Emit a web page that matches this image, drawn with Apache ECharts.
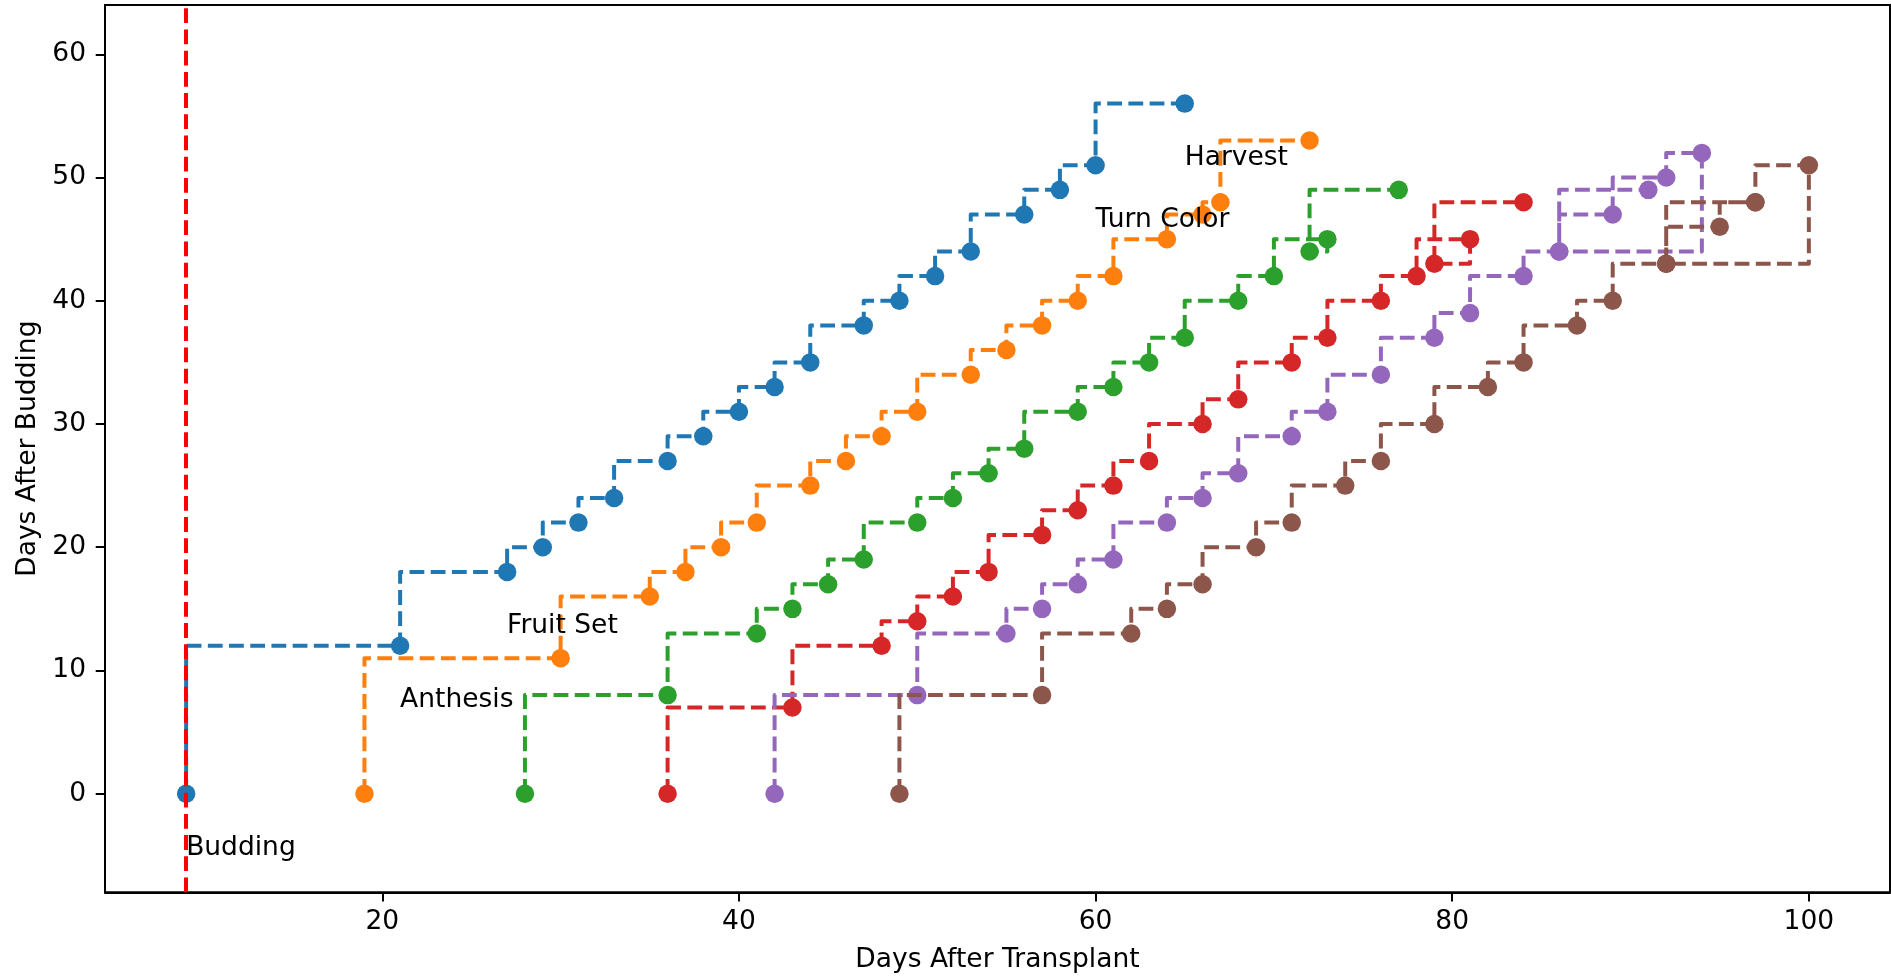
<!DOCTYPE html>
<html>
<head>
<meta charset="utf-8">
<script src="https://cdn.jsdelivr.net/npm/echarts@6/dist/echarts.min.js"></script>
<style>
html,body{margin:0;padding:0;background:#fff;}
#chart{width:1891px;height:976px;}
</style>
</head>
<body>
<div id="chart"></div>
<script>
// ---- data ----
const seriesNames = ['Cluster 1', 'Cluster 2', 'Cluster 3', 'Cluster 4', 'Cluster 5', 'Cluster 6'];

const cluster1X = [9, 21, 27, 29, 31, 33, 36, 38, 40, 42, 44, 47, 49, 51, 53, 56, 58, 60, 65];
const cluster1Y = [0, 12, 18, 20, 22, 24, 27, 29, 31, 33, 35, 38, 40, 42, 44, 47, 49, 51, 56];

const cluster2X = [19, 30, 35, 37, 39, 41, 44, 46, 48, 50, 53, 55, 57, 59, 61, 64, 66, 67, 72];
const cluster2Y = [0, 11, 16, 18, 20, 22, 25, 27, 29, 31, 34, 36, 38, 40, 42, 45, 47, 48, 53];

const cluster3X = [28, 36, 41, 43, 45, 47, 50, 52, 54, 56, 59, 61, 63, 65, 68, 70, 73, 72, 77];
const cluster3Y = [0, 8, 13, 15, 17, 19, 22, 24, 26, 28, 31, 33, 35, 37, 40, 42, 45, 44, 49];

const cluster4X = [36, 43, 48, 50, 52, 54, 57, 59, 61, 63, 66, 68, 71, 73, 76, 78, 81, 79, 84];
const cluster4Y = [0, 7, 12, 14, 16, 18, 21, 23, 25, 27, 30, 32, 35, 37, 40, 42, 45, 43, 48];

const cluster5X = [42, 50, 55, 57, 59, 61, 64, 66, 68, 71, 73, 76, 79, 81, 84, 86, 89, 92, 94, 86, 91];
const cluster5Y = [0, 8, 13, 15, 17, 19, 22, 24, 26, 29, 31, 34, 37, 39, 42, 44, 47, 50, 52, 44, 49];

const cluster6X = [49, 57, 62, 64, 66, 69, 71, 74, 76, 79, 82, 84, 87, 89, 92, 95, 97, 100, 92, 97];
const cluster6Y = [0, 8, 13, 15, 17, 20, 22, 25, 27, 30, 33, 35, 38, 40, 43, 46, 48, 51, 43, 48];

const buddingLineX = [9];

const stageLabels = ['Budding', 'Anthesis', 'Fruit Set', 'Turn Color', 'Harvest'];
const stageLabelX = [9, 21, 27, 60, 65];
const stageLabelY = [-5, 7, 13, 46, 51];

const xTicks = [20, 40, 60, 80, 100];
const yTicks = [0, 10, 20, 30, 40, 50, 60];

// ---- styling ----
const colors = ['#1f77b4', '#ff7f0e', '#2ca02c', '#d62728', '#9467bd', '#8c564b'];
const FONT = 'DejaVu Sans';
const FS = 26.5;
const DASH = [14.8, 6.4];

const allX = [cluster1X, cluster2X, cluster3X, cluster4X, cluster5X, cluster6X];
const allY = [cluster1Y, cluster2Y, cluster3Y, cluster4Y, cluster5Y, cluster6Y];

const lineSeries = allX.map((xs, i) => ({
  name: seriesNames[i],
  type: 'line',
  step: 'start',
  data: xs.map((x, j) => [x, allY[i][j]]),
  symbol: 'circle',
  symbolSize: 18.5,
  showSymbol: true,
  showAllSymbol: true,
  z: 3 + i,
  silent: true,
  lineStyle: { color: colors[i], width: 4, type: DASH, cap: 'butt', join: 'round' },
  itemStyle: { color: colors[i], borderWidth: 0 },
  emphasis: { disabled: true }
}));

const option = {
  animation: false,
  backgroundColor: '#fff',
  grid: {
    left: 105, right: 1, top: 5, bottom: 83.7,
    containLabel: false,
    outerBoundsMode: 'none',
    show: true, borderColor: '#000', borderWidth: 2, backgroundColor: 'transparent'
  },
  xAxis: {
    type: 'value',
    min: 4.45, max: 104.55,
    name: 'Days After Transplant',
    nameLocation: 'middle',
    nameGap: 54,
    nameTextStyle: { fontFamily: FONT, fontSize: FS, color: '#000' },
    splitLine: { show: false },
    axisLine: { show: true, onZero: false, lineStyle: { color: '#000', width: 2 } },
    axisTick: { show: true, inside: false, length: 9.3, customValues: xTicks, lineStyle: { color: '#000', width: 2 } },
    axisLabel: { customValues: xTicks, margin: 16, fontFamily: FONT, fontSize: FS, color: '#000' }
  },
  yAxis: {
    type: 'value',
    min: -8, max: 64,
    name: 'Days After Budding',
    nameLocation: 'middle',
    nameRotate: 90,
    nameGap: 59,
    nameTextStyle: { fontFamily: FONT, fontSize: FS, color: '#000' },
    splitLine: { show: false },
    axisLine: { show: true, onZero: false, lineStyle: { color: '#000', width: 2 } },
    axisTick: { show: true, inside: false, length: 9.3, customValues: yTicks, lineStyle: { color: '#000', width: 2 } },
    axisLabel: { customValues: yTicks, margin: 19, padding: [4, 0, 0, 0], fontFamily: FONT, fontSize: FS, color: '#000' }
  },
  series: [
    {
      name: 'Budding line',
      type: 'line',
      data: [],
      z: 2,
      silent: true,
      markLine: {
        silent: true,
        animation: false,
        symbol: ['none', 'none'],
        label: { show: false },
        lineStyle: { color: '#ff0000', width: 4, type: DASH, cap: 'butt' },
        emphasis: { disabled: true },
        data: buddingLineX.map(x => ({ xAxis: x }))
      }
    },
    ...lineSeries,
    {
      name: 'Stages',
      type: 'custom',
      z: 20,
      silent: true,
      clip: false,
      data: stageLabelX.map((x, i) => [x, stageLabelY[i]]),
      renderItem: (params, api) => {
        const p = api.coord([api.value(0), api.value(1)]);
        return {
          type: 'text',
          x: p[0],
          y: p[1] - 0.346 * FS + 2,
          style: {
            text: stageLabels[params.dataIndex],
            fill: '#000',
            fontFamily: FONT,
            fontSize: FS,
            align: 'left',
            verticalAlign: 'middle'
          }
        };
      }
    }
  ]
};

const chart = echarts.init(document.getElementById('chart'), null, { renderer: 'canvas' });
chart.setOption(option);
</script>
</body>
</html>
